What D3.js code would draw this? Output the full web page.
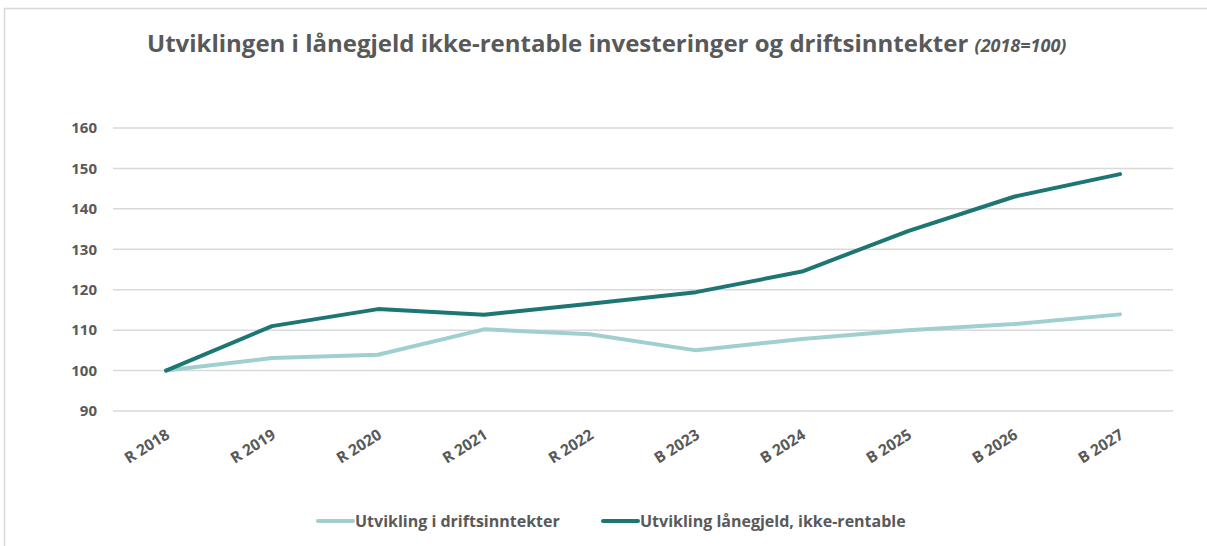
<!DOCTYPE html>
<html>
<head>
<meta charset="utf-8">
<script src="https://cdn.jsdelivr.net/npm/d3@7"></script>
<style>
  body { margin: 0; background: #fff; }
  text { font-family: "Open Sans", sans-serif; fill: #595959; }
</style>
</head>
<body>
<svg width="1207" height="546"></svg>
<script>
var categories = ["R 2018", "R 2019", "R 2020", "R 2021", "R 2022", "B 2023", "B 2024", "B 2025", "B 2026", "B 2027"];
var driftsinntekter = [100, 103.1, 103.9, 110.2, 109.0, 105.0, 107.8, 110.0, 111.5, 113.9];
var laanegjeld = [100, 111.0, 115.2, 113.8, 116.5, 119.4, 124.5, 134.5, 143.0, 148.6];
var yTicks = [90, 100, 110, 120, 130, 140, 150, 160];

var series = [
  { name: "Utvikling i driftsinntekter", values: driftsinntekter, color: "#9fd0cf" },
  { name: "Utvikling lånegjeld, ikke-rentable", values: laanegjeld, color: "#1d7674" }
];

var svg = d3.select("svg"),
    margin = {top: 128, right: 34, bottom: 135, left: 113},
    width = 1207 - margin.left - margin.right,
    height = 546 - margin.top - margin.bottom;

// chart frame
svg.append("path")
   .attr("d", "M4.5,546 V8.5 H1207")
   .attr("fill", "none")
   .attr("stroke", "#d9d9d9")
   .attr("stroke-width", 1.5);

// title
var title = svg.append("text")
   .attr("x", 147)
   .attr("y", 52)
   .style("font-size", "24px")
   .style("font-weight", "bold");
title.append("tspan").text("Utviklingen i lånegjeld ikke-rentable investeringer og driftsinntekter ");
title.append("tspan").style("font-size", "18px").style("font-style", "italic").text("(2018=100)");

var g = svg.append("g")
   .attr("transform", "translate(" + margin.left + "," + margin.top + ")");

var x = d3.scaleBand().domain(categories).range([0, width]);
var y = d3.scaleLinear().domain([90, 160]).range([height, 0]);

// gridlines
g.append("g")
 .selectAll("line")
 .data(yTicks)
 .enter().append("line")
 .attr("x1", 0).attr("x2", width)
 .attr("y1", function(d) { return y(d); })
 .attr("y2", function(d) { return y(d); })
 .attr("stroke", "#d9d9d9")
 .attr("stroke-width", 1.5);

// y axis labels
g.append("g")
 .selectAll("text")
 .data(yTicks)
 .enter().append("text")
 .attr("x", -16)
 .attr("y", function(d) { return y(d); })
 .attr("dy", "0.35em")
 .attr("text-anchor", "end")
 .style("font-size", "15px")
 .style("font-weight", "bold")
 .text(function(d) { return d; });

// x axis labels, rotated
g.append("g")
 .selectAll("text")
 .data(categories)
 .enter().append("text")
 .attr("transform", function(d) {
     return "translate(" + (x(d) + x.bandwidth() / 2 + 2) + "," + (height + 22) + ") rotate(-32)";
 })
 .attr("text-anchor", "end")
 .attr("dy", "0.35em")
 .style("font-size", "15.5px")
 .style("font-weight", "bold")
 .text(function(d) { return d; });

var line = d3.line()
   .x(function(d, i) { return x(categories[i]) + x.bandwidth() / 2; })
   .y(function(d) { return y(d); });

g.selectAll(".serie")
 .data(series)
 .enter().append("path")
 .attr("class", "serie")
 .attr("d", function(d) { return line(d.values); })
 .attr("fill", "none")
 .attr("stroke", function(d) { return d.color; })
 .attr("stroke-width", 4)
 .attr("stroke-linecap", "round")
 .attr("stroke-linejoin", "round");

// legend
var legendX = [318, 603];
var legend = svg.selectAll(".legend")
   .data(series)
   .enter().append("g")
   .attr("class", "legend")
   .attr("transform", function(d, i) { return "translate(" + legendX[i] + ",521)"; });

legend.append("line")
   .attr("x1", 0).attr("x2", 35)
   .attr("stroke", function(d) { return d.color; })
   .attr("stroke-width", 4)
   .attr("stroke-linecap", "round");

legend.append("text")
   .attr("x", 37)
   .attr("dy", "0.35em")
   .style("font-size", "16px")
   .style("font-weight", "bold")
   .text(function(d) { return d.name; });
</script>
</body>
</html>
